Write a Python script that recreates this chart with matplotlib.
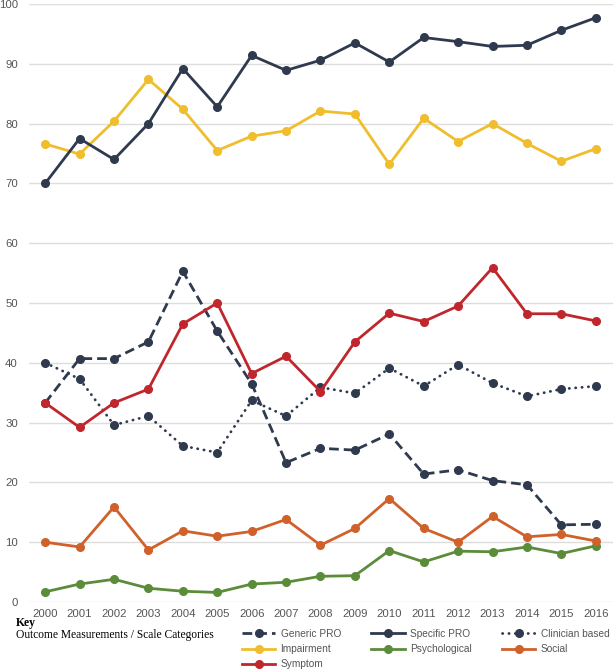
import numpy as np
import matplotlib.pyplot as plt
from matplotlib.lines import Line2D

years = [str(y) for y in range(2000, 2017)]

generic_pro = [33.3, 40.7, 40.7, 43.5, 55.3, 45.3, 36.5, 23.3, 25.7, 25.4,
               28.1, 21.4, 22.1, 20.3, 19.6, 12.9, 13.0]
specific_pro = [70.0, 77.5, 74.0, 80.0, 89.2, 82.8, 91.4, 88.9, 90.6, 93.5,
                90.3, 94.4, 93.7, 92.9, 93.1, 95.6, 97.7]
clinician = [40.0, 37.3, 29.6, 31.1, 26.1, 25.0, 33.7, 31.1, 35.9, 34.9,
             39.1, 36.1, 39.7, 36.6, 34.4, 35.6, 36.1]
impairment = [76.6, 74.9, 80.4, 87.4, 82.4, 75.5, 77.9, 78.8, 82.1, 81.6,
              73.2, 80.9, 77.0, 80.0, 76.7, 73.7, 75.8]
psychological = [1.7, 3.0, 3.8, 2.3, 1.8, 1.6, 3.0, 3.3, 4.3, 4.4,
                 8.6, 6.7, 8.5, 8.4, 9.2, 8.1, 9.4]
social = [10.0, 9.2, 15.9, 8.7, 11.9, 11.0, 11.8, 13.8, 9.5, 12.3,
          17.3, 12.3, 10.0, 14.3, 10.9, 11.3, 10.2]
symptom = [33.3, 29.2, 33.3, 35.6, 46.5, 50.0, 38.2, 41.1, 35.2, 43.5,
           48.3, 46.9, 49.5, 55.9, 48.2, 48.2, 47.0]

navy = '#2f3a4f'
yellow = '#f0bd2d'
red = '#c0272d'
green = '#5b8c3a'
orange = '#d0612b'

plt.rcParams['font.family'] = ['Liberation Sans', 'DejaVu Sans']

fig = plt.figure(figsize=(6.16, 6.69), dpi=100)
ax = fig.add_axes([29 / 616, 1 - 602 / 669, 584 / 616, 598 / 669])

x = np.arange(len(years))
lw = 2.0
ms = 5.5

# legend order (filled column by column): Generic/Impairment/Symptom, Specific/Psych, Clinician/Social
series = [
    ('Generic PRO', generic_pro, navy, (0, (3.5, 1.8))),
    ('Impairment', impairment, yellow, '-'),
    ('Symptom', symptom, red, '-'),
    ('Specific PRO', specific_pro, navy, '-'),
    ('Psychological', psychological, green, '-'),
    ('Clinician based', clinician, navy, (0, (0.1, 2.2))),
    ('Social', social, orange, '-'),
]

draw_order = ['Psychological', 'Social', 'Clinician based', 'Generic PRO',
              'Symptom', 'Impairment', 'Specific PRO']
lookup = {s[0]: s for s in series}
for z, name in enumerate(draw_order):
    label, vals, color, ls = lookup[name]
    ax.plot(x, vals, color=color, lw=lw, ls=ls, marker='o', ms=ms,
            dash_capstyle='round' if name == 'Clinician based' else 'butt',
            zorder=3 + z)

handles = []
for label, vals, color, ls in series:
    handles.append(Line2D([], [], color=color, lw=lw, ls=ls, marker='o', ms=ms,
                          dash_capstyle='round' if label == 'Clinician based' else 'butt',
                          label=label))

ax.set_xlim(-0.47, 16.5)
ax.set_ylim(0, 100)
ax.set_yticks(range(0, 101, 10))
ax.set_xticks(x)
ax.set_xticklabels(years)
ax.grid(axis='y', color='#dddddd', lw=1.0)
ax.set_axisbelow(True)
for s in ax.spines.values():
    s.set_visible(False)
ax.tick_params(axis='both', length=0, labelsize=8.2, colors='#555555')
ax.tick_params(axis='y', pad=8)
ax.tick_params(axis='x', pad=5)

fig.legend(handles=handles, loc='upper left', bbox_to_anchor=(242 / 616, 1 - 629 / 669),
           ncol=3, frameon=False, fontsize=7.3, handlelength=3.3,
           handletextpad=0.5, columnspacing=3.0, labelspacing=0.5,
           borderpad=0, borderaxespad=0, labelcolor='#555555')

fig.text(16 / 616, 1 - 623 / 669, 'Key', family='Liberation Serif',
         fontweight='bold', fontsize=8.5, va='center', ha='left')
fig.text(16 / 616, 1 - 635 / 669, 'Outcome Measurements / Scale Categories',
         family='Liberation Serif', fontsize=8.3, va='center', ha='left')

fig.savefig('out.png', dpi=100)
